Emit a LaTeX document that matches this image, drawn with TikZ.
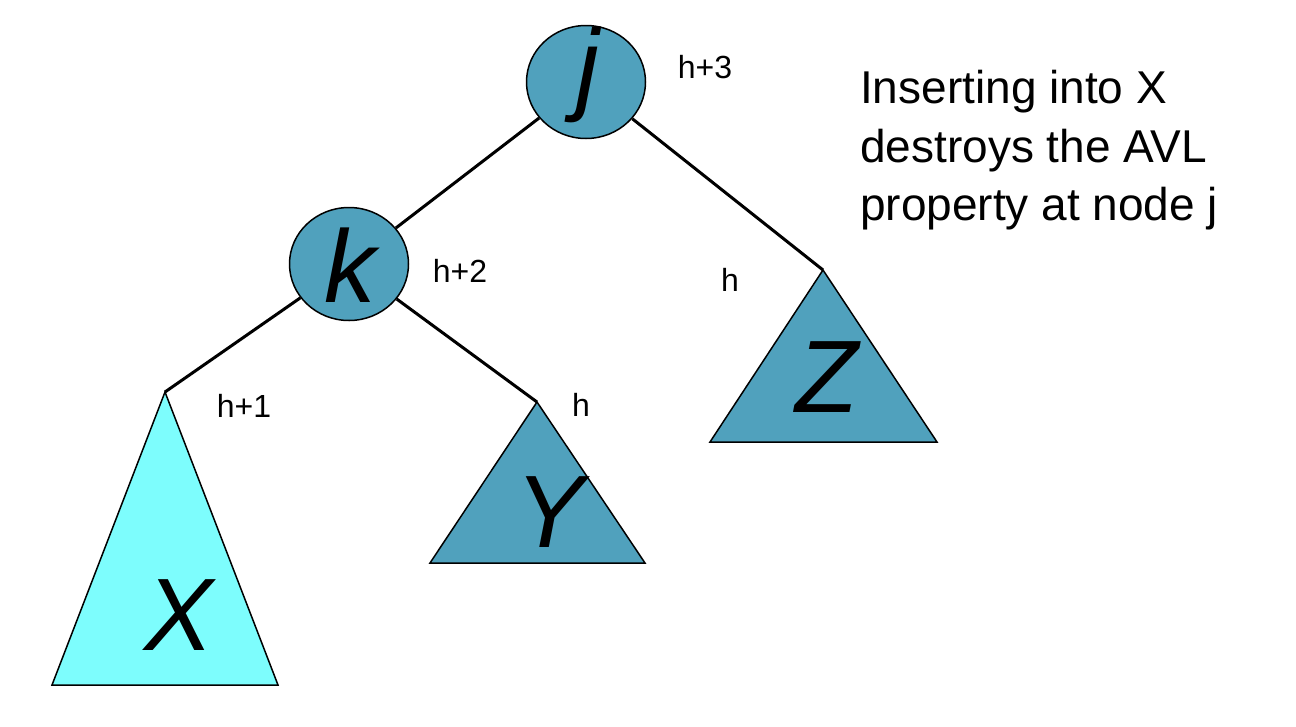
\documentclass[tikz,border=0pt]{standalone}
\usepackage{fontspec}
\setmainfont{Liberation Sans}
\usetikzlibrary{shapes.geometric}
\definecolor{nodeblue}{HTML}{50A1BD}
\definecolor{xcyan}{HTML}{7DFDFD}
\tikzset{
  treenode/.style={ellipse, draw=black, line width=1.5pt, fill=nodeblue, minimum width=119pt, minimum height=113pt, inner sep=0pt},
  subtree/.style={draw=black, line width=1.5pt, line join=miter},
  edge/.style={line width=3pt},
  bigletter/.style={anchor=base, inner sep=0pt, font=\fontsize{103}{103}\selectfont\itshape},
  hlabel/.style={anchor=base, inner sep=0pt, font=\fontsize{32}{32}\selectfont},
  note/.style={anchor=base west, inner sep=0pt, font=\fontsize{46}{46}\selectfont}
}
\begin{document}
\begin{tikzpicture}[x=1pt,y=-1pt]
\useasboundingbox (0,0) rectangle (1296,726);
% nodes
\node[treenode] (j) at (586,82) {};
\node[treenode] (k) at (349,264) {};
% subtree apexes
\coordinate (xa) at (165,392);
\coordinate (ya) at (537,402);
\coordinate (za) at (823,270);
% triangles
\filldraw[subtree, fill=xcyan] (xa) -- (52,685) -- (278,685) -- cycle;
\filldraw[subtree, fill=nodeblue] (ya) -- (430,563) -- (645,563) -- cycle;
\filldraw[subtree, fill=nodeblue] (za) -- (710,442) -- (937,442) -- cycle;
% edges
\draw[edge] (j) -- (k);
\draw[edge] (j) -- (za);
\draw[edge] (k) -- (xa);
\draw[edge] (k) -- (ya);
% letters
\node[bigletter] (jl) at (588,101) {j};
\node[bigletter] (kl) at (350,302) {k};
\node[bigletter] (xl) at (179,650) {X};
\node[bigletter] (yl) at (550,547) {Y};
\node[bigletter] (zl) at (827,412) {Z};
% height labels
\node[hlabel] (h3) at (705,78) {h+3};
\node[hlabel] (h2) at (460,282) {h+2};
\node[hlabel] (hz) at (730,291) {h};
\node[hlabel] (h1) at (244,417) {h+1};
\node[hlabel] (hy) at (581,416) {h};
% note
\node[note] (t1) at (860,103) {Inserting into X};
\node[note] (t2) at (860,162) {destroys the AVL};
\node[note] (t3) at (860,220) {property at node j};
\end{tikzpicture}
\end{document}
